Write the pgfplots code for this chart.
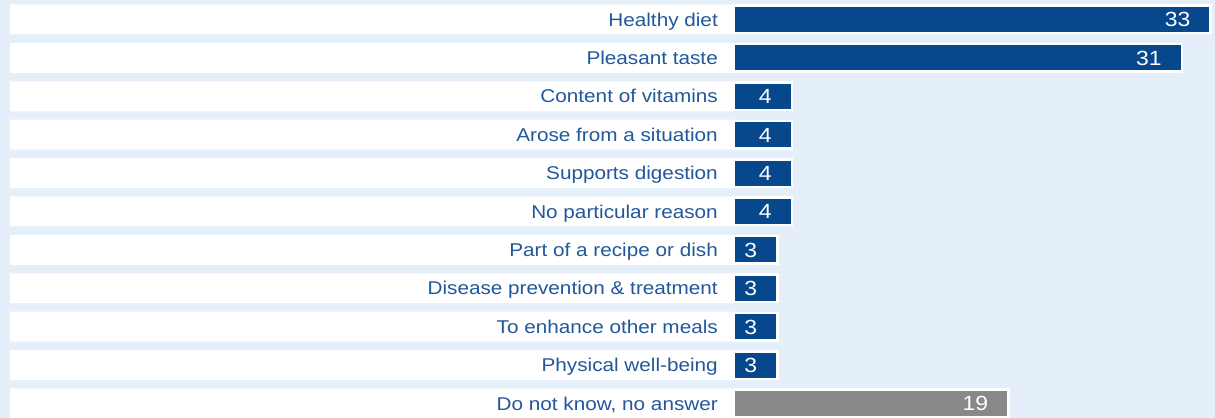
\documentclass[border=0pt]{standalone}
\usepackage{fontspec}
\setmainfont{Liberation Sans}[FakeStretch=1.12]
\usepackage{pgfplots}
\pgfplotsset{compat=1.18}
\definecolor{bgblue}{HTML}{E5EFF9}
\definecolor{barblue}{HTML}{07488C}
\definecolor{bargrey}{HTML}{888888}
\definecolor{txtblue}{HTML}{22589A}
\begin{document}
\begin{tikzpicture}
\begin{axis}[
  set layers=axis on top,
  width=1215pt, height=418pt, scale only axis,
  xmin=-50.80, xmax=33.29,
  ymin=0.492, ymax=11.378, y dir=reverse,
  axis line style={draw=none},
  axis background/.style={fill=bgblue},
  xtick=\empty,
  ytick={1,...,11},
  yticklabels={Healthy diet, Pleasant taste, Content of vitamins, Arose from a situation, Supports digestion, No particular reason, Part of a recipe or dish, Disease prevention \& treatment, To enhance other meals, Physical well-being, {Do not know, no answer}},
  major tick length=0pt,
  yticklabel style={anchor=east, xshift=718pt, inner sep=0pt, text height=13.2pt, text depth=0pt, text=txtblue, font=\fontsize{18.5}{22}\selectfont},
  /pgf/number format/assume math mode=true,
  xbar,
  nodes near coords style={anchor=east, xshift=-19pt, text=white, inner sep=0pt, text height=14.8pt, text depth=0pt, font=\fontsize{20.5}{24}\selectfont},
]
\addplot[fill=white, draw=none, bar width=30pt, bar shift=0pt]
  coordinates {(-50.1,1) (-50.1,2) (-50.1,3) (-50.1,4) (-50.1,5) (-50.1,6) (-50.1,7) (-50.1,8) (-50.1,9) (-50.1,10) (-50.1,11)};
\addplot[fill=barblue, draw=white, line width=2.5pt, bar width=27.5pt, bar shift=0pt,
  nodes near coords]
  coordinates {(33,1) (31,2) (4,3) (4,4) (4,5) (4,6) (3,7) (3,8) (3,9) (3,10)};
\addplot[fill=bargrey, draw=white, line width=2.5pt, bar width=27.5pt, bar shift=0pt,
  nodes near coords]
  coordinates {(19,11)};
\end{axis}
\end{tikzpicture}
\end{document}
